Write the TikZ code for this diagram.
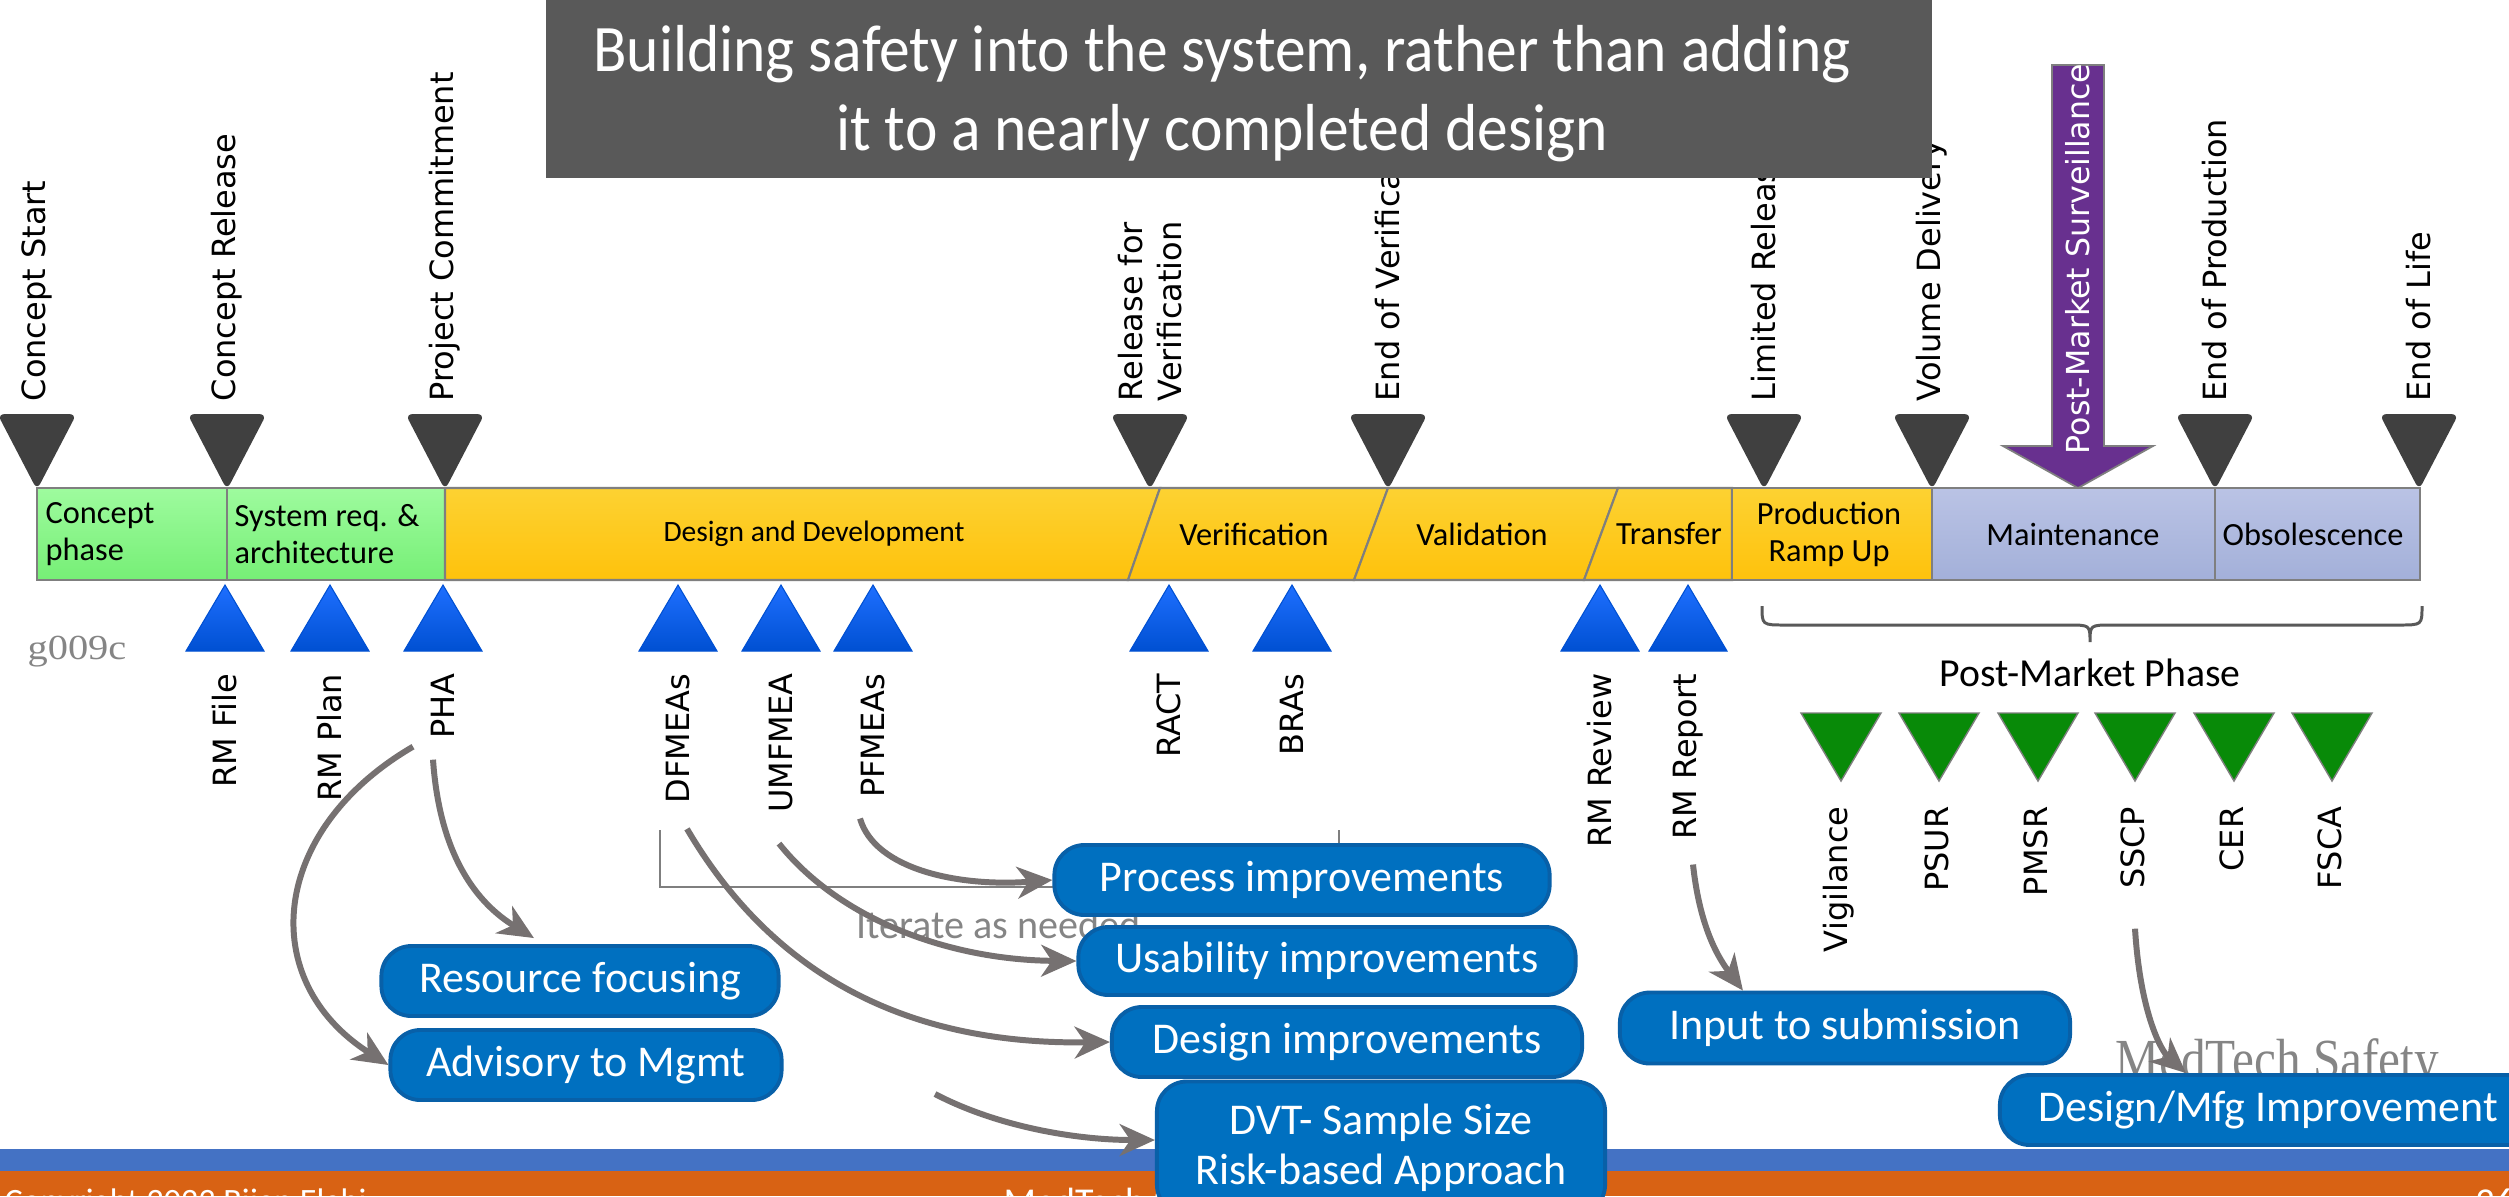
\documentclass[tikz,border=0pt]{standalone}
\usepackage{fontspec}
\setmainfont{Carlito}
\newfontfamily\dejavu{DejaVu Sans}
\newfontfamily\lserif{Liberation Serif}
\usetikzlibrary{arrows.meta,calc}
\definecolor{titlegray}{HTML}{595959}
\definecolor{tri}{HTML}{404040}
\definecolor{segline}{HTML}{7F7F7F}
\definecolor{greenT}{HTML}{9EFB9E}
\definecolor{greenB}{HTML}{76EF76}
\definecolor{yelT}{HTML}{FDD232}
\definecolor{yelB}{HTML}{FEC20C}
\definecolor{lavT}{HTML}{BAC3E5}
\definecolor{lavB}{HTML}{A3B0D9}
\definecolor{blueT}{HTML}{1E6FFF}
\definecolor{blueB}{HTML}{0050D2}
\definecolor{pmgreen}{HTML}{088A08}
\definecolor{purp}{HTML}{68308F}
\definecolor{boxblue}{HTML}{0070C0}
\definecolor{boxedge}{HTML}{0860A8}
\definecolor{conngray}{HTML}{767171}
\definecolor{bandblue}{HTML}{4472C4}
\definecolor{bandorange}{HTML}{D86214}
\definecolor{wmgray}{HTML}{858585}
\tikzset{
  mslabel/.style={rotate=90, anchor=west, inner sep=0pt, align=left,
    font=\dejavu\fontsize{9.1pt}{11pt}\selectfont},
  rmlabel/.style={rotate=90, anchor=east, inner sep=0pt,
    font=\dejavu\fontsize{9.1pt}{11pt}\selectfont},
  seglabel/.style={inner sep=0pt, align=center,
    font=\fontsize{9.2pt}{10.5pt}\selectfont},
  outbox/.style={draw=boxedge, line width=1.1pt, fill=boxblue, rounded corners=0.3cm,
    text=white, inner sep=0pt, align=center, font=\fontsize{12.5pt}{14.2pt}\selectfont},
  connarrow/.style={draw=conngray, line width=1.7pt,
    -{Stealth[length=10pt,width=9pt,inset=3pt]}},
  darktri/.style={fill=tri, draw=tri, line width=0.5pt, rounded corners=1.5pt},
  segshape/.style={draw=segline, line width=0.6pt},
}
\begin{document}
\begin{tikzpicture}[x=0.01cm, y=-0.01cm]
\useasboundingbox (0,0) rectangle (2509,1196);
\fill[white] (0,0) rectangle (2509,1196);

% ---------- footer bands ----------
\fill[bandblue] (0,1149) rectangle (2509,1171);
\fill[bandorange] (0,1171) rectangle (2509,1196);
\node[anchor=base west, text=white, inner sep=0pt, font=\fontsize{9.7pt}{11pt}\selectfont] (copy) at (4,1212) {Copyright 2023 Bijan Elahi};
\node[anchor=base west, text=white, inner sep=0pt, font=\fontsize{10.8pt}{12pt}\selectfont] (foot) at (1003,1214) {MedTech Safety};
\node[anchor=base west, text=white, inner sep=0pt, font=\fontsize{10.8pt}{12pt}\selectfont] (pgno) at (2475,1214) {26};

% ---------- milestone triangles ----------
\foreach \x in {37,227,445,1150,1388,1764,1932,2215,2419}
  \filldraw[darktri] (\x-38,415) -- (\x+38,415) -- (\x,488) -- cycle;

% ---------- phase bar ----------
\shadedraw[segshape, top color=greenT, bottom color=greenB] (37,488) rectangle (227,580);
\shadedraw[segshape, top color=greenT, bottom color=greenB] (227,488) rectangle (445,580);
\shadedraw[segshape, top color=yelT, bottom color=yelB] (445,488) -- (1160,488) -- (1128,580) -- (445,580) -- cycle;
\shadedraw[segshape, top color=yelT, bottom color=yelB] (1160,488) -- (1388,488) -- (1354,580) -- (1128,580) -- cycle;
\shadedraw[segshape, top color=yelT, bottom color=yelB] (1388,488) -- (1618,488) -- (1584,580) -- (1354,580) -- cycle;
\shadedraw[segshape, top color=yelT, bottom color=yelB] (1618,488) -- (1732,488) -- (1732,580) -- (1584,580) -- cycle;
\shadedraw[segshape, top color=yelT, bottom color=yelB] (1732,488) rectangle (1932,580);
\shadedraw[segshape, top color=lavT, bottom color=lavB] (1932,488) rectangle (2215,580);
\shadedraw[segshape, top color=lavT, bottom color=lavB] (2215,488) rectangle (2420,580);

\node[seglabel, anchor=west, align=left] (cp) at (45,534) {Concept\\phase};
\node[seglabel, anchor=west, align=left] (sr) at (234,534) {System req. \&\\architecture};
\node[seglabel, font=\fontsize{8.4pt}{10pt}\selectfont] (dd) at (814,534) {Design and Development};
\node[seglabel] (ver) at (1254,534) {Verification};
\node[seglabel] (val) at (1482,534) {Validation};
\node[seglabel] (tr) at (1669,534) {Transfer};
\node[seglabel] (pr) at (1829,534) {Production\\Ramp Up};
\node[seglabel] (mt) at (2073,534) {Maintenance};
\node[seglabel] (ob) at (2313,534) {Obsolescence};

% ---------- milestone labels ----------
\node[mslabel] (m1) at (37,402) {Concept Start};
\node[mslabel] (m2) at (227,402) {Concept Release};
\node[mslabel] (m3) at (445,402) {Project Commitment};
\node[mslabel] (m4) at (1150,402) {Release for\\Verification};
\node[mslabel] (m5) at (1388,402) {End of Verification};
\node[mslabel] (m6) at (1764,402) {Limited Release};
\node[mslabel] (m7) at (1932,402) {Volume Delivery};
\node[mslabel] (m8) at (2215,402) {End of Production};
\node[mslabel] (m9) at (2419,402) {End of Life};

% ---------- post-market surveillance arrow ----------
\filldraw[fill=purp, draw=segline, line width=0.5pt] (2052,65) -- (2104,65) -- (2104,446) -- (2153,446) -- (2078,488) -- (2003,446) -- (2052,446) -- cycle;
\node[rotate=90, anchor=west, inner sep=0pt, text=white, font=\dejavu\fontsize{9pt}{10pt}\selectfont] (pms) at (2078,455) {Post-Market Surveillance};

% ---------- title ----------
\node[fill=titlegray, minimum width=13.86cm, minimum height=1.78cm, inner sep=0pt] (title) at (1239,89) {};
\node[text=white, inner sep=0pt, font=\fontsize{17.5pt}{21pt}\selectfont] (titletxt) at (1222,95)
  {\scalebox{1}[1.08]{\begin{tabular}{@{}c@{}}Building safety into the system, rather than adding\\it to a nearly completed design\end{tabular}}};

% ---------- risk activity triangles ----------
\foreach \x/\t/\n in {225/RM File/rmf, 330/RM Plan/rmp, 443/PHA/pha, 678/DFMEAs/dfm, 781/UMFMEA/ufm, 873/PFMEAs/pfm, 1169/RACT/ract, 1292/BRAs/bras, 1600/RM Review/rmr, 1688/RM Report/rmrep} {
  \shadedraw[top color=blueT, bottom color=blueB, draw=blueB, line width=0.3pt] (\x-39,651) -- (\x+39,651) -- (\x,585) -- cycle;
  \node[rmlabel] (\n) at (\x,673) {\t};
}
\node[text=wmgray, inner sep=0pt, font=\lserif\fontsize{10pt}{12pt}\selectfont] (gcode) at (77,652) {\scalebox{1.15}[1]{g009c}};

% ---------- post-market phase ----------
\draw[draw=titlegray, line width=0.85pt] (1762,606) .. controls (1762,625) .. (1785,625) -- (2068,625) .. controls (2090,625) .. (2090,642) .. controls (2090,625) .. (2112,625) -- (2399,625) .. controls (2422,625) .. (2422,606);
\node[inner sep=0pt, font=\fontsize{11.3pt}{13pt}\selectfont] (pmp) at (2090,673) {Post-Market Phase};
\foreach \x/\t/\n in {1841/Vigilance/g1, 1939/PSUR/g2, 2038/PMSR/g3, 2135/SSCP/g4, 2234/CER/g5, 2332/FSCA/g6} {
  \filldraw[fill=pmgreen, draw=segline, line width=0.4pt] (\x-40,713) -- (\x+40,713) -- (\x,781) -- cycle;
  \node[rmlabel] (\n) at (\x-2,806) {\t};
}

% ---------- iterate bracket ----------
\draw[segline, line width=0.8pt] (660,830) -- (660,887) -- (1339,887) -- (1339,830);
\node[anchor=west, inner sep=0pt, text=wmgray, font=\fontsize{11.4pt}{13pt}\selectfont] (iter) at (856,925) {Iterate as needed};

% ---------- watermark ----------
\node[anchor=base west, inner sep=0pt, text=wmgray, font=\lserif\fontsize{14pt}{16pt}\selectfont] (wm) at (2115,1078) {\scalebox{1}[1.15]{MedTech Safety}};

% ---------- outcome boxes ----------
\node[outbox, minimum width=3.97cm, minimum height=0.70cm] (res) at (580,981) {Resource focusing};
\node[outbox, minimum width=3.91cm, minimum height=0.70cm] (adv) at (586,1065) {Advisory to Mgmt};
\node[outbox, minimum width=4.95cm, minimum height=0.70cm] (proc) at (1302,880) {Process improvements};
\node[outbox, minimum width=4.97cm, minimum height=0.68cm] (usab) at (1327,961) {Usability improvements};
\node[outbox, minimum width=4.70cm, minimum height=0.70cm] (des) at (1347,1042) {Design improvements};
\node[outbox, minimum width=4.48cm, minimum height=1.33cm] (dvt) at (1381,1148) {DVT- Sample Size\\Risk-based Approach};
\node[outbox, minimum width=4.50cm, minimum height=0.71cm] (inp) at (1845,1028) {Input to submission};
\node[outbox, minimum width=5.36cm, minimum height=0.70cm] (dmfg) at (2268,1110) {Design/Mfg Improvement};

% ---------- connectors ----------
\coordinate (dvtsrc) at (935,1094);
\draw[connarrow] ($(pha.west)+(-30,7)$) .. controls (270,830) and (255,980) .. (adv.west);
\draw[connarrow] ($(pha.west)+(-10,20)$) .. controls (440,860) and (480,905) .. ($(res.north)+(-46,-6)$);
\draw[connarrow] ($(pfm.west)+(-13,20)$) .. controls (875,870) and (960,887) .. (proc.west);
\draw[connarrow] ($(ufm.west)+(-2,30)$) .. controls (840,920) and (950,960) .. (usab.west);
\draw[connarrow] ($(dfm.west)+(9,25)$) .. controls (770,970) and (900,1045) .. (des.west);
\draw[connarrow] (dvtsrc) .. controls (1000,1128) and (1080,1140) .. ([yshift=0.08cm]dvt.west);
\draw[connarrow] ($(rmrep.west)+(5,24)$) .. controls (1700,930) and (1720,960) .. ($(inp.north west)+(125,0)$);
\draw[connarrow] ($(g4.west)+(2,39)$) .. controls (2140,1010) and (2160,1050) .. ($(dmfg.north west)+(188,0)$);
\end{tikzpicture}
\end{document}
